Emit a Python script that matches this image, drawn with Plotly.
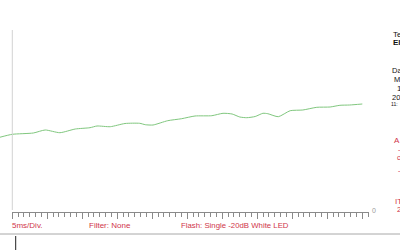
import plotly.graph_objects as go

# ---- data (time in ms, response in µV) ----
time_ms = [-1.8, 0.0, 3.0, 4.7, 6.8, 9.0, 11.1, 12.1, 14.0, 16.1, 18.2, 19.0, 20.1,
           22.2, 24.2, 26.1, 28.5, 30.1, 31.4, 32.5, 33.5, 34.7, 35.8, 36.5, 38.0,
           39.7, 41.5, 43.5, 45.4, 46.8, 48.2, 50.0]
response_uv = [74.7, 77.7, 79.0, 82.0, 79.3, 83.0, 84.3, 86.0, 85.3, 88.5, 88.7, 87.3, 87.0,
               91.3, 93.3, 96.0, 96.3, 98.7, 98.0, 95.0, 94.3, 95.5, 98.7, 98.3, 95.3,
               101.3, 102.0, 104.7, 105.0, 106.7, 107.0, 108.0]

bottom_labels = ["5ms/Div.", "Filter: None", "Flash: Single -20dB White LED"]
info_black = ["Te", "El", "Da", "M", "1", "20", "11:"]
info_red = ["A", "-", "c", "-", "IT", "2"]

W, H = 400, 250
PX_PER_MS = 7.0
X0_PX = 12.3          # pixel of t = 0
Y0_PX = 212.0         # pixel of 0 µV
FONT = "Liberation Sans, Arial, sans-serif"
RED = "#d0354a"

x_range = [-X0_PX / PX_PER_MS, (W - X0_PX) / PX_PER_MS]
y_range = [Y0_PX - H, Y0_PX]

fig = go.Figure()
fig.add_trace(go.Scatter(x=time_ms, y=response_uv, mode="lines",
                         line=dict(color="#80c77e", width=1, shape="spline", smoothing=0.6),
                         hoverinfo="skip", showlegend=False))
# helper trace so the time scale axis is drawn
fig.add_trace(go.Scatter(x=[None], y=[None], xaxis="x2", yaxis="y2",
                         showlegend=False, hoverinfo="skip"))

scale_end = 51.0
fig.update_layout(
    width=W, height=H, margin=dict(l=0, r=0, t=0, b=0),
    paper_bgcolor="white", plot_bgcolor="rgba(0,0,0,0)",
    xaxis=dict(range=x_range, domain=[0, 1], visible=False, fixedrange=True),
    yaxis=dict(range=y_range, domain=[0, 1], visible=False, fixedrange=True),
    xaxis2=dict(range=[0, scale_end],
                domain=[X0_PX / W, (X0_PX + scale_end * PX_PER_MS) / W],
                anchor="free", position=(H - Y0_PX) / H, side="bottom",
                showline=True, linecolor="#8a8a8a", linewidth=1,
                ticks="outside", ticklen=6, tickcolor="#8a8a8a", tickwidth=1,
                tick0=0, dtick=5, showticklabels=False, showgrid=False,
                zeroline=False, fixedrange=True,
                minor=dict(dtick=5 / 6, ticks="outside", ticklen=3.5,
                           tickcolor="#8a8a8a", tickwidth=1, showgrid=False)),
    yaxis2=dict(range=[0, 1], domain=[0.99, 1], anchor="free", position=0,
                visible=False, fixedrange=True),
    showlegend=False,
)

# vertical reference line at t = 0
fig.add_shape(type="line", xref="x", yref="y", x0=0, x1=0,
              y0=Y0_PX - 30, y1=Y0_PX - 210, line=dict(color="#d2d2d2", width=1))
# separator line and cursor
fig.add_shape(type="line", xref="paper", yref="paper", x0=0, x1=1,
              y0=1 - 234 / H, y1=1 - 234 / H, line=dict(color="#a8a8a8", width=1))
fig.add_shape(type="line", xref="paper", yref="paper", x0=15.7 / W, x1=15.7 / W,
              y0=1 - 236 / H, y1=0, line=dict(color="#222222", width=1))

def ann(text, xpx, ypx, color, size=8, bold=False):
    fig.add_annotation(text=f"<b>{text}</b>" if bold else text,
                       xref="paper", yref="paper", x=xpx / W, y=1 - ypx / H,
                       xanchor="left", yanchor="middle", showarrow=False,
                       borderpad=0, borderwidth=0,
                       font=dict(family=FONT, size=size, color=color))

# bottom labels
for txt, xp, sz in zip(bottom_labels, [12, 89, 181], [8, 8, 7.8]):
    ann(txt, xp, 225, RED, size=sz)

# zero label of the amplitude axis
ann("0", 372, 210.5, "#9a9a9a", size=7)

# right-hand info panel (cut by the window edge in the original)
black_pos = [(393, 34, 8, False), (393, 43, 8, True), (391.5, 70, 7.5, False),
             (393.5, 79, 7.5, False), (397, 88, 8, False), (392, 97, 7.5, False),
             (390.5, 104, 5, False)]
for txt, (xp, yp, sz, b) in zip(info_black, black_pos):
    ann(txt, xp, yp, "#111111", size=sz, bold=b)

red_pos = [(393.5, 140, 8), (397.5, 149, 7), (397, 157, 7), (397.5, 170, 7),
           (394.5, 201, 8), (396.5, 209, 8)]
for txt, (xp, yp, sz) in zip(info_red, red_pos):
    ann(txt, xp, yp, RED, size=sz)

fig.write_html("out.html")
